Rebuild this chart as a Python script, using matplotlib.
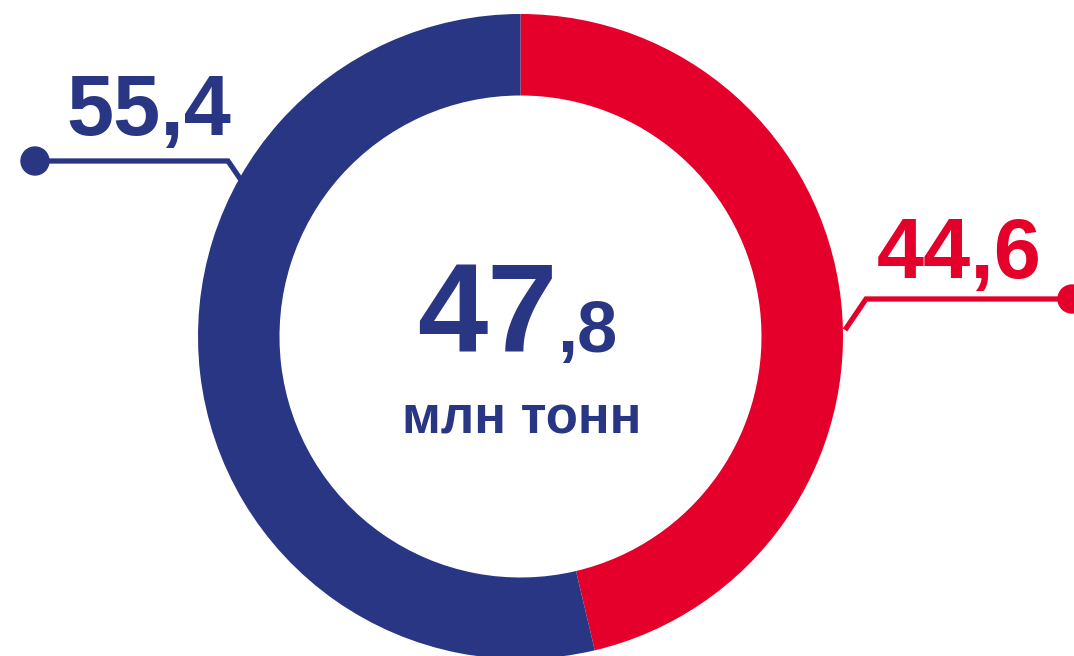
import matplotlib.pyplot as plt
from matplotlib.patches import Circle

# ring shares as drawn (red from top, clockwise), and the printed labels
segments = ["red", "blue"]
shares = [46.3, 53.7]
labels = ["44,6", "55,4"]
total_int = "47"
total_dec = ",8"
unit = "млн тонн"

RED = "#E4002B"
BLUE = "#293683"
colors = [RED, BLUE]

W, H = 1074, 656
plt.rcParams['font.family'] = ['Liberation Sans', 'DejaVu Sans']

fig = plt.figure(figsize=(W / 100, H / 100), dpi=100)
ax = fig.add_axes([0, 0, 1, 1])
ax.set_xlim(0, W)
ax.set_ylim(0, H)
ax.set_aspect('equal')
ax.axis('off')

def fy(y):
    # pixel row from top -> data y
    return H - y

cx, cy, r_out, r_in = 520.5, 336.5, 322.5, 241

ax.pie(shares, colors=colors, startangle=90, counterclock=False,
       radius=r_out, center=(cx, fy(cy)),
       wedgeprops=dict(width=r_out - r_in, linewidth=0))
ax.set_xlim(0, W)
ax.set_ylim(0, H)

# leader lines
lw = 3.8
ax.plot([35, 228, 241], [fy(161), fy(161), fy(180)], color=BLUE, lw=lw,
        solid_joinstyle='miter', solid_capstyle='butt')
ax.add_patch(Circle((35, fy(161)), 14, color=BLUE))
ax.plot([1072, 866, 845], [fy(299), fy(299), fy(330)], color=RED, lw=lw,
        solid_joinstyle='miter', solid_capstyle='butt')
ax.add_patch(Circle((1072, fy(299)), 14, color=RED))

# value labels
ax.text(66, fy(135), labels[1], color=BLUE, fontsize=61, fontweight='bold',
        ha='left', va='baseline')
ax.text(877, fy(278), labels[0], color=RED, fontsize=61, fontweight='bold',
        ha='left', va='baseline')

# centre total
ax.text(417, fy(352), total_int, color=BLUE, fontsize=91, fontweight='bold',
        ha='left', va='baseline')
ax.text(557, fy(352), total_dec, color=BLUE, fontsize=52, fontweight='bold',
        ha='left', va='baseline')
ax.text(522, fy(433), unit, color=BLUE, fontsize=38, fontweight='bold',
        ha='center', va='baseline')

fig.savefig("out.png", dpi=100)
